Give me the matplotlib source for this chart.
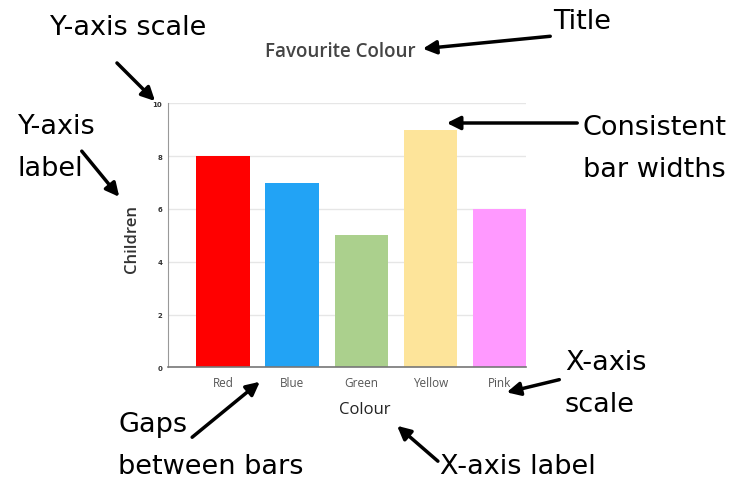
import matplotlib
matplotlib.use("Agg")
import matplotlib.pyplot as plt

# bar chart data
colours = ["Red", "Blue", "Green", "Yellow", "Pink"]
children = [8, 7, 5, 9, 6]
bar_colours = ["#FF0000", "#22A3F5", "#ABD08D", "#FDE49A", "#FF99FF"]
y_ticks = [0, 2, 4, 6, 8, 10]

W, H = 729, 485
fig = plt.figure(figsize=(W / 100, H / 100), dpi=100)
fig.patch.set_facecolor("white")

# axes box in pixels: left, right, top, bottom
L, R, T, B = 167.7, 526, 104.3, 368.3
ax = fig.add_axes([L / W, 1 - B / H, (R - L) / W, (B - T) / H])

x = range(len(colours))
ax.bar(x, children, width=0.77, color=bar_colours, zorder=2)
ax.set_xlim(-0.8, len(colours) - 1 + 0.385)
ax.set_ylim(0, 10)
ax.set_yticks(y_ticks)
ax.set_yticklabels([str(t) for t in y_ticks], fontsize=5, fontweight="bold", color="#333333")
ax.set_xticks(list(x))
ax.set_xticklabels(colours, fontsize=8.5, color="#555555", family="Open Sans")
ax.tick_params(axis="both", length=0)
ax.tick_params(axis="y", pad=4)
ax.tick_params(axis="x", pad=6)
ax.grid(axis="y", color="#E6E6E6", linewidth=1, zorder=0)

for s in ["top", "right"]:
    ax.spines[s].set_visible(False)
ax.spines["left"].set_color("#999999")
ax.spines["bottom"].set_color("#777777")
ax.spines["bottom"].set_linewidth(1.2)

fig.text(132 / W, 1 - 239 / H, "Children", fontsize=12, color="#333333",
         family="Open Sans", fontweight="semibold", rotation=90,
         ha="center", va="center")
fig.text(365 / W, 1 - 410 / H, "Colour", fontsize=12, color="#222222",
         family="Open Sans", ha="center", va="center")
fig.text(340 / W, 1 - 52 / H, "Favourite Colour", fontsize=13.5, color="#444444",
         family="Open Sans", fontweight="semibold", ha="center", va="center")

# callout labels with arrows (figure pixel coordinates from top-left)
notes = [
    ("Y-axis scale", (50, 28), (115, 62), (157, 104)),
    ("Title", (553, 22), (553, 37), (420, 50)),
    ("Y-axis\nlabel", (18, 148), (80, 150), (121, 200)),
    ("Consistent\nbar widths", (583, 149), (580, 124), (444, 124)),
    ("X-axis\nscale", (565, 384), (562, 380), (504, 394)),
    ("Gaps\nbetween bars", (118, 446), (190, 440), (262, 381)),
    ("X-axis label", (440, 467), (440, 464), (395, 425)),
]
for text, (tx, ty), (ax0, ay0), (ax1, ay1) in notes:
    fig.text(tx / W, 1 - ty / H, text, fontsize=19.5, color="black",
             ha="left", va="center", linespacing=1.8, family="DejaVu Sans")
    fig.add_artist(matplotlib.patches.FancyArrowPatch(
        (ax0, H - ay0), (ax1, H - ay1), transform=None,
        arrowstyle="-|>,head_length=8,head_width=4", lw=2.5,
        color="black", mutation_scale=1))

fig.savefig("out.png", dpi=100)
